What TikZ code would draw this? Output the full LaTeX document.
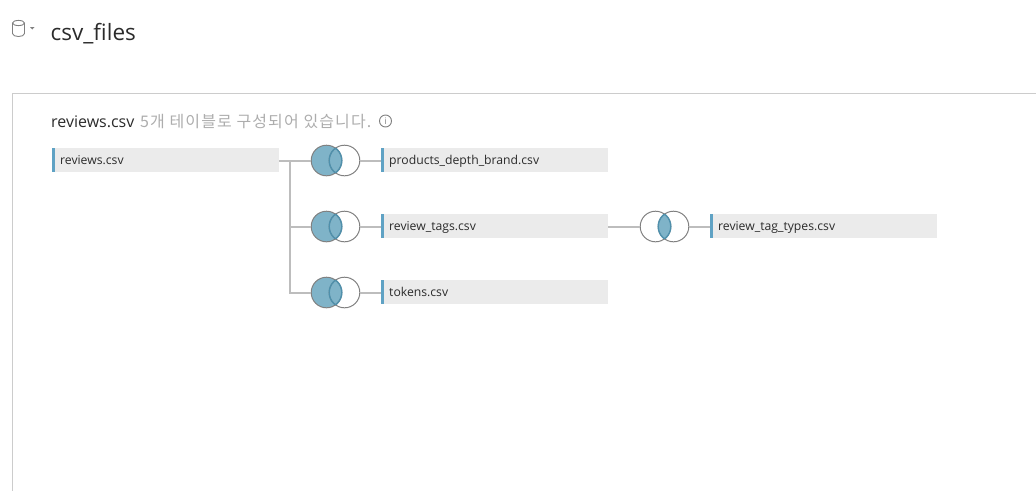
\documentclass[tikz,border=0pt]{standalone}
\usepackage{fontspec}
\setmainfont{Open Sans}
\newfontfamily\krfont[LetterSpace=7]{Noto Sans CJK KR}
\usepackage{xcolor}
\usepackage{tikz}
\usetikzlibrary{positioning,calc}

\definecolor{tablegray}{HTML}{EBEBEB}
\definecolor{tablebar}{HTML}{5FA2C4}
\definecolor{joinfill}{HTML}{7FB3C8}
\definecolor{joinedge}{HTML}{4F90AC}
\definecolor{ringgray}{HTML}{808080}
\definecolor{linegray}{HTML}{BDBDBD}
\definecolor{inkdark}{HTML}{2B2B2B}

\tikzset{
  tablebox/.style={anchor=north west, fill=tablegray, minimum width=227pt, minimum height=24pt,
    inner sep=0pt, text=inkdark, font=\fontsize{12.2}{14}\selectfont, align=left, text width=227pt,
    text height=10pt, text depth=2pt,
    path picture={\fill[tablebar] (path picture bounding box.north west) rectangle ($(path picture bounding box.south west)+(3,0)$);}},
  ring/.style={circle, draw=ringgray, line width=1pt, minimum size=30.6pt, inner sep=0pt},
  joinline/.style={draw=linegray, line width=2pt},
  overlap/.style={draw=joinedge, line width=1.4pt}
}

% left join: whole left circle is filled
\newcommand{\leftjoin}[3]{
  \node[ring, fill=joinfill] (#1L) at (#2,#3) {};
  \node[ring] (#1R) at (#2+18,#3) {};
  \begin{scope}
    \clip (#2,#3) circle (15.3);
    \draw[overlap] (#2+18,#3) circle (15.3);
  \end{scope}
  \begin{scope}
    \clip (#2+18,#3) circle (15.3);
    \draw[overlap] (#2,#3) circle (15.3);
  \end{scope}
}

\begin{document}
\begin{tikzpicture}[x=1pt, y=-1pt]
  \useasboundingbox (0,0) rectangle (1036,491);

  % data source header
  \draw[ringgray, line width=0.9pt] (12.5,23) -- (12.5,33.5) .. controls (12.5,37.5) and (24.5,37.5) .. (24.5,33.5) -- (24.5,23);
  \draw[ringgray, line width=0.9pt] (18.5,23) ellipse [x radius=6, y radius=2.6];
  \fill[ringgray] (30,27) -- (34.5,27) -- (32.25,29.5) -- cycle;
  \node[anchor=base west, inner sep=0pt, text=inkdark, font=\fontsize{22.5}{26}\selectfont] (sourcename) at (50.5,40) {csv\_files};

  % panel
  \draw[color=black!20, line width=1pt] (1036,93.5) -- (12.5,93.5) -- (12.5,491);
  \node[anchor=base west, inner sep=0pt, text=inkdark, font=\fontsize{16}{18}\selectfont] (paneltitle) at (51,127) {reviews.csv};
  \node[anchor=base west, inner sep=0pt, text=black!32, font=\krfont\fontsize{16}{18}\selectfont] (panelnote) at (140,127) {5개 테이블로 구성되어 있습니다.};
  \node[circle, draw=ringgray, line width=0.9pt, minimum size=12pt, inner sep=0pt, text=ringgray, font=\fontsize{9}{9}\selectfont] (info) at (385.5,121) {i};

  % tables
  \node[tablebox] (reviews) at (52,148) {\hspace*{8pt}reviews.csv};
  \node[tablebox] (brand) at (381,148) {\hspace*{8pt}products\_depth\_brand.csv};
  \node[tablebox] (tags) at (381,214) {\hspace*{8pt}review\_tags.csv};
  \node[tablebox] (tokens) at (381,280) {\hspace*{8pt}tokens.csv};
  \node[tablebox] (tagtypes) at (710,214) {\hspace*{8pt}review\_tag\_types.csv};

  % joins
  \leftjoin{joinbrand}{326.5}{160.5}
  \leftjoin{jointags}{326.5}{226.5}
  \leftjoin{jointokens}{326.5}{292.5}

  \node[ring] (jointypesL) at (655.5,226.5) {};
  \node[ring] (jointypesR) at (673.5,226.5) {};
  \begin{scope}
    \clip (655.5,226.5) circle (15.3);
    \fill[joinfill] (673.5,226.5) circle (15.3);
    \draw[overlap] (673.5,226.5) circle (15.3);
  \end{scope}
  \begin{scope}
    \clip (673.5,226.5) circle (15.3);
    \draw[overlap] (655.5,226.5) circle (15.3);
  \end{scope}

  % connectors
  \coordinate (trunk) at (289.5,160.5);
  \draw[joinline] (reviews.east |- trunk) -- (joinbrandL.west);
  \draw[joinline] (trunk) |- (jointagsL.west);
  \draw[joinline] (trunk) |- (jointokensL.west);
  \draw[joinline] (joinbrandR.east) -- (brand.west |- joinbrandR.east);
  \draw[joinline] (jointagsR.east) -- (tags.west |- jointagsR.east);
  \draw[joinline] (jointokensR.east) -- (tokens.west |- jointokensR.east);
  \draw[joinline] (tags.east |- jointypesL.west) -- (jointypesL.west);
  \draw[joinline] (jointypesR.east) -- (tagtypes.west |- jointypesR.east);
\end{tikzpicture}
\end{document}
